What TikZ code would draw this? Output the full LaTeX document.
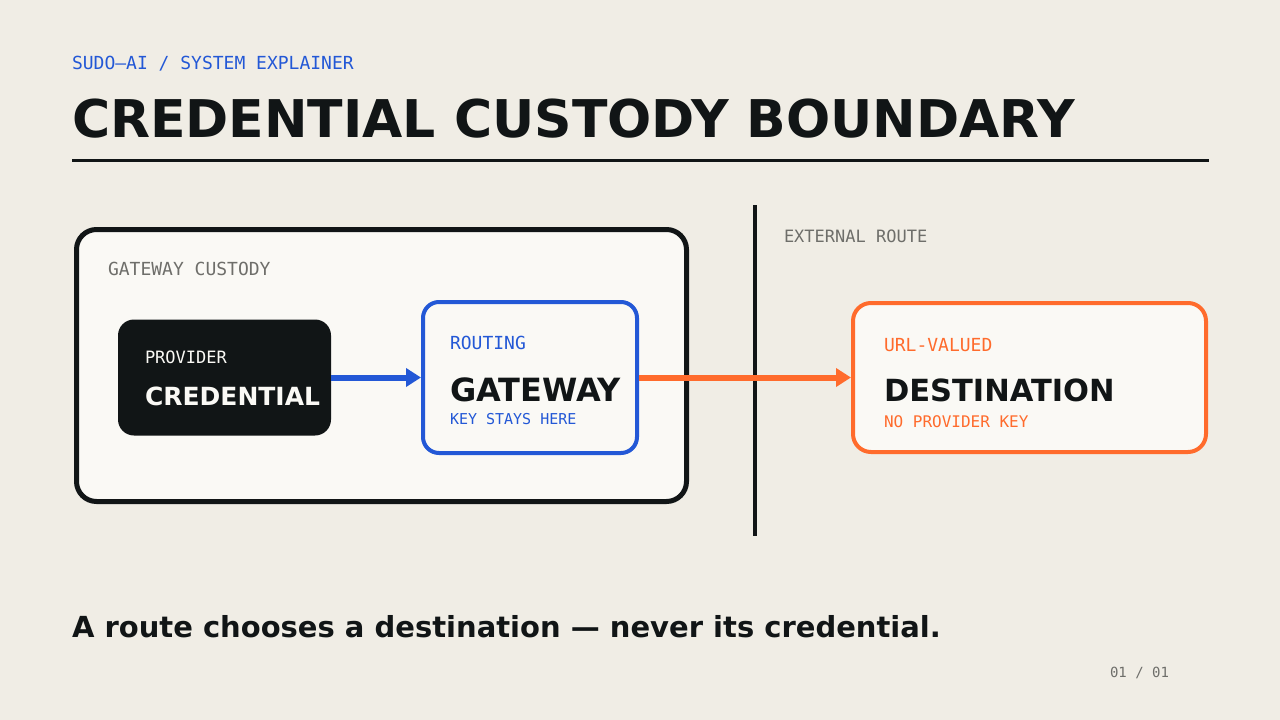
\documentclass[tikz,border=0pt]{standalone}
\usepackage{fontspec}
\setmainfont{DejaVu Sans}
\newfontfamily\monof{DejaVu Sans Mono}
\usetikzlibrary{arrows.meta}
\definecolor{bgc}{HTML}{F0EDE5}
\definecolor{cardc}{HTML}{FAF9F5}
\definecolor{inkc}{HTML}{111516}
\definecolor{bluec}{HTML}{2358D6}
\definecolor{orangec}{HTML}{FF6B2C}
\definecolor{grayc}{HTML}{6E6E6A}
\tikzset{
  txt/.style={anchor=base west, inner sep=0pt, outer sep=0pt},
  monotxt/.style={txt, font=\monof\fontsize{#1}{#1}\selectfont},
  boldtxt/.style={txt, font=\bfseries\fontsize{#1}{#1}\selectfont},
  card/.style={rectangle, inner sep=0pt},
  conn/.style={line width=6pt, -{Triangle[length=15pt,width=18pt]}},
}
\begin{document}
\begin{tikzpicture}[x=1pt,y=-1pt]
\fill[bgc] (0,0) rectangle (1280,720);
\useasboundingbox (0,0) rectangle (1280,720);

% header
\node[monotxt=18, text=bluec] (kicker) at (72,69) {SUDO—AI / SYSTEM EXPLAINER};
\node[boldtxt=52, text=inkc] (title) at (72,137) {CREDENTIAL CUSTODY BOUNDARY};
\coordinate (ruleA) at (72,160);
\coordinate (ruleB) at (1209,160);
\draw[inkc, line width=3pt] (ruleA) -- (ruleB);

% container
\node[card, draw=inkc, fill=cardc, line width=5pt, rounded corners=20pt,
      minimum width=610pt, minimum height=272pt] (custody) at (381.5,365.5) {};
\node[monotxt=18, text=grayc] (custlbl) at (108,275) {GATEWAY CUSTODY};

% divider
\coordinate (divA) at (755,205);
\coordinate (divB) at (755,536);
\draw[inkc, line width=4pt] (divA) -- (divB);
\node[monotxt=17, text=grayc] (extlbl) at (784,242) {EXTERNAL ROUTE};

% credential
\node[card, fill=inkc, rounded corners=16pt,
      minimum width=213pt, minimum height=116pt] (cred) at (224.5,377.5) {};
\node[monotxt=17, text=cardc] (credsub) at (145,363) {PROVIDER};
\node[boldtxt=25, text=cardc] (credttl) at (145,405) {CREDENTIAL};

% gateway
\node[card, draw=bluec, fill=cardc, line width=4pt, rounded corners=16pt,
      minimum width=214pt, minimum height=151pt] (gw) at (530,377.5) {};
\node[monotxt=18, text=bluec] (gwsub) at (450,349) {ROUTING};
\node[boldtxt=32, text=inkc] (gwttl) at (450,401.5) {GATEWAY};
\node[monotxt=15, text=bluec] (gwnote) at (450,424) {KEY STAYS HERE};

% destination
\node[card, draw=orangec, fill=cardc, line width=4pt, rounded corners=18pt,
      minimum width=353pt, minimum height=149pt] (dest) at (1029.5,377.5) {};
\node[monotxt=18, text=orangec] (destsub) at (884,351) {URL-VALUED};
\node[boldtxt=30.5, text=inkc] (destttl) at (884,401) {DESTINATION};
\node[monotxt=16, text=orangec] (destnote) at (884,427) {NO PROVIDER KEY};

% connectors
\draw[conn, bluec] (cred.east) -- (gw.west);
\draw[conn, orangec] (gw.east) -- (dest.west);

% footer
\node[boldtxt=29, text=inkc] (tagline) at (72,637) {A route chooses a destination — never its credential.};
\node[monotxt=14, text=grayc] (pager) at (1110,677) {01 / 01};
\end{tikzpicture}
\end{document}
